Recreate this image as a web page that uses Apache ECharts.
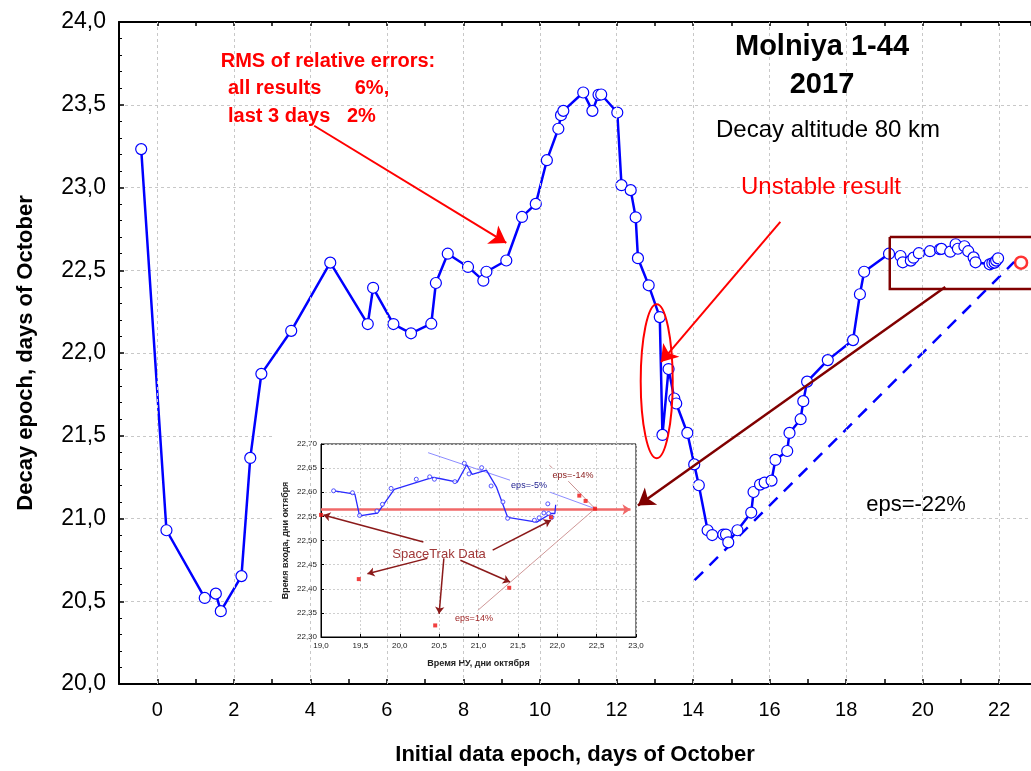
<!DOCTYPE html>
<html>
<head>
<meta charset="utf-8">
<script src="https://cdn.jsdelivr.net/npm/echarts@6/dist/echarts.min.js"></script>
<style>
  html, body { margin: 0; padding: 0; background: #fff; }
  #chart { width: 1031px; height: 771px; }
</style>
</head>
<body>
<div id="chart"></div>
<script>
// main curve: initial data epoch (days of October) -> predicted decay epoch
const mainDays = [-0.42, 0.24, 1.24, 1.53, 1.66, 2.20, 2.43, 2.72, 3.50, 4.52,
  5.50, 5.64, 6.17, 6.63, 7.16, 7.28, 7.59, 8.12, 8.52, 8.60,
  9.12, 9.53, 9.89, 10.18, 10.48, 10.55, 10.61, 11.13, 11.37, 11.53,
  11.60, 12.02, 12.13, 12.37, 12.50, 12.56, 12.84, 13.13, 13.20, 13.36,
  13.51, 13.56, 13.85, 14.03, 14.15, 14.38, 14.50, 14.79, 14.86, 14.92,
  15.16, 15.52, 15.58, 15.75, 15.87, 16.05, 16.15, 16.46, 16.52, 16.81,
  16.88, 16.98, 17.52, 18.18, 18.36, 18.47, 19.12, 19.42, 19.48, 19.69,
  19.76, 19.90, 20.19, 20.45, 20.49, 20.72, 20.86, 20.92, 21.09, 21.19,
  21.33, 21.38, 21.75, 21.82, 21.88, 21.92, 21.97];
const mainDecay = [23.232, 20.929, 20.52, 20.546, 20.44, 20.652, 21.366, 21.874, 22.134, 22.546,
  22.175, 22.394, 22.175, 22.119, 22.177, 22.423, 22.600, 22.520, 22.437, 22.491,
  22.559, 22.822, 22.901, 23.165, 23.355, 23.437, 23.463, 23.574, 23.463, 23.560,
  23.562, 23.453, 23.014, 22.984, 22.820, 22.573, 22.409, 22.217, 21.505, 21.903,
  21.725, 21.695, 21.517, 21.327, 21.201, 20.929, 20.900, 20.903, 20.903, 20.856,
  20.929, 21.036, 21.160, 21.205, 21.217, 21.229, 21.354, 21.408, 21.517, 21.600,
  21.709, 21.827, 21.957, 22.078, 22.355, 22.491, 22.600, 22.586, 22.548, 22.558,
  22.576, 22.603, 22.615, 22.627, 22.629, 22.612, 22.657, 22.630, 22.645, 22.615,
  22.578, 22.548, 22.536, 22.542, 22.546, 22.558, 22.572];
const actualDecay = [22.57, 22.546];
const xGridDays = [0, 2, 4, 6, 8, 10, 12, 14, 16, 18, 20, 22];

// annotation lines of the main chart
const rmsArrow = [[4.10, 23.373], [9.12, 22.665]];
const unstableArrow = [[16.28, 22.792], [13.16, 21.945]];
const zoomArrow = [[20.59, 22.399], [12.56, 21.079]];
const zoomBox = [[19.14, 22.701], [23.0, 22.701], [23.0, 22.387], [19.14, 22.387], [19.14, 22.701]];
const eps22Line = [[14.04, 20.627], [22.39, 22.550]];
const unstableCenter = [13.05, 21.83];

// inset: last days zoomed
const fitDays = [19.17, 19.43, 19.49, 19.72, 19.93, 20.42, 20.52, 20.73, 20.85, 20.92, 21.10, 21.23, 21.37, 21.74, 21.92, 21.97, 21.98];
const fitDecay = [22.603, 22.596, 22.551, 22.557, 22.606, 22.631, 22.628, 22.621, 22.657, 22.637, 22.646, 22.610, 22.548, 22.538, 22.556, 22.556, 22.574];
const ptDays = [19.16, 19.40, 19.49, 19.71, 19.78, 19.89, 20.21, 20.38, 20.44, 20.70, 20.82, 20.88, 21.04, 21.16, 21.31, 21.37, 21.71, 21.77, 21.83, 21.88, 21.89, 21.93];
const ptDecay = [22.603, 22.599, 22.552, 22.561, 22.575, 22.608, 22.627, 22.632, 22.627, 22.622, 22.660, 22.638, 22.651, 22.613, 22.580, 22.546, 22.542, 22.547, 22.557, 22.576, 22.556, 22.548];
const stDays = [19.0, 19.48, 20.45, 21.39, 21.92, 22.28, 22.36, 22.48];
const stDecay = [22.553, 22.42, 22.324, 22.402, 22.548, 22.593, 22.582, 22.566];
const decayLevel = [[19.0, 22.564], [22.93, 22.564]];
const epsM5Lines = [[[20.36, 22.682], [21.40, 22.625]], [[21.91, 22.600], [22.48, 22.566]]];
const epsM14Lines = [[[21.90, 22.656], [21.94, 22.650]], [[22.14, 22.623], [22.48, 22.566]]];
const eps14Line = [[20.99, 22.355], [22.48, 22.566]];
const stArrows = [
  [[20.30, 22.497], [19.03, 22.553]],
  [[21.18, 22.480], [21.92, 22.542]],
  [[20.35, 22.463], [19.59, 22.431]],
  [[20.56, 22.463], [20.50, 22.348]],
  [[20.77, 22.459], [21.40, 22.414]]
];

const FONT = 'Arial, "Liberation Sans", sans-serif';
const comma = (v, n) => v.toFixed(n).replace('.', ',');

function zipPts(xs, ys) {
  return xs.map((x, i) => [x, ys[i]]);
}

function arrowLines(list, color, width, size, z, xi) {
  return {
    type: 'lines',
    coordinateSystem: 'cartesian2d',
    xAxisIndex: xi, yAxisIndex: xi,
    symbol: ['none', 'arrow'],
    symbolSize: size,
    silent: true,
    z: z,
    lineStyle: { color: color, width: width, opacity: 1 },
    data: list.map(c => ({ coords: c }))
  };
}

function plainLines(list, color, width, z, xi, type) {
  return {
    type: 'lines',
    coordinateSystem: 'cartesian2d',
    xAxisIndex: xi, yAxisIndex: xi,
    symbol: ['none', 'none'],
    silent: true,
    polyline: true,
    z: z,
    lineStyle: { color: color, width: width, type: type || 'solid', opacity: 1 },
    data: list.map(c => ({ coords: c }))
  };
}

const chart = echarts.init(document.getElementById('chart'));

const option = {
  animation: false,
  backgroundColor: '#fff',
  textStyle: { fontFamily: FONT },
  grid: [
    { left: 119, right: -3, top: 22, bottom: 87, show: false },
    { left: 321, top: 444, width: 315, height: 193, show: true, borderColor: '#000', borderWidth: 1, z: 3 }
  ],
  xAxis: [
    {
      type: 'value', gridIndex: 0, min: -1, max: 22.83, interval: 1,
      name: 'Initial data epoch, days of October',
      nameLocation: 'middle', nameGap: 60,
      nameTextStyle: { fontSize: 22, fontWeight: 'bold', color: '#000', fontFamily: FONT },
      axisLine: { onZero: false, lineStyle: { color: '#000', width: 2 } },
      axisTick: { inside: true, length: 5, lineStyle: { color: '#000', width: 1.5 } },
      axisLabel: {
        fontSize: 20, color: '#000', margin: 16, showMinLabel: false, showMaxLabel: false,
        formatter: v => (Math.round(v) % 2 === 0 ? String(Math.round(v)) : '')
      },
      splitLine: { show: false }
    },
    {
      type: 'value', gridIndex: 1, min: 19, max: 23, interval: 0.5, z: 3,
      name: 'Время НУ, дни октября',
      nameLocation: 'middle', nameGap: 22,
      nameTextStyle: { fontSize: 9, fontWeight: 'bold', color: '#222', fontFamily: FONT },
      axisLine: { onZero: false, lineStyle: { color: '#000', width: 1 } },
      axisTick: { inside: true, length: 3, lineStyle: { color: '#000' } },
      axisLabel: { fontSize: 8, color: '#222', margin: 5, formatter: v => comma(v, 1) },
      splitLine: { show: true, lineStyle: { color: '#cfcfcf', type: [2, 2], width: 1 } }
    },
    {
      // top frame line of the main plot with inner ticks
      type: 'value', gridIndex: 0, min: -1, max: 22.83, interval: 1, position: 'top',
      axisLine: { onZero: false, lineStyle: { color: '#000', width: 2 } },
      axisTick: { inside: true, length: 4, lineStyle: { color: '#000', width: 1.5 } },
      axisLabel: { show: false },
      splitLine: { show: false }
    }
  ],
  yAxis: [
    {
      type: 'value', gridIndex: 0, min: 20, max: 24, interval: 0.5,
      name: 'Decay epoch, days of October',
      nameLocation: 'middle', nameGap: 82, nameRotate: 90,
      nameTextStyle: { fontSize: 22, fontWeight: 'bold', color: '#000', fontFamily: FONT },
      axisLine: { onZero: false, lineStyle: { color: '#000', width: 2 } },
      axisTick: { inside: true, length: 5, lineStyle: { color: '#000', width: 1.5 } },
      minorTick: { show: true, splitNumber: 5, length: 3, lineStyle: { color: '#000' } },
      axisLabel: { fontSize: 23, color: '#000', margin: 13, formatter: v => comma(v, 1) },
      splitLine: { show: true, lineStyle: { color: '#c8c8c8', type: [3, 3], width: 1 } }
    },
    {
      type: 'value', gridIndex: 1, min: 22.3, max: 22.7, interval: 0.05, z: 3,
      name: 'Время входа, дни октября',
      nameLocation: 'middle', nameGap: 31, nameRotate: 90,
      nameTextStyle: { fontSize: 9, fontWeight: 'bold', color: '#222', fontFamily: FONT },
      axisLine: { onZero: false, lineStyle: { color: '#000', width: 1 } },
      axisTick: { inside: true, length: 3, lineStyle: { color: '#000' } },
      axisLabel: { fontSize: 8, color: '#222', margin: 4, formatter: v => comma(v, 2) },
      splitLine: { show: true, lineStyle: { color: '#cfcfcf', type: [2, 2], width: 1 } }
    }
  ],
  series: [
    // vertical grid lines every 2 days
    {
      type: 'line', xAxisIndex: 0, yAxisIndex: 0, data: [], z: 0, silent: true,
      markLine: {
        silent: true, symbol: ['none', 'none'], label: { show: false },
        lineStyle: { color: '#c8c8c8', type: [3, 3], width: 1 },
        data: xGridDays.map(d => ({ xAxis: d }))
      }
    },
    {
      name: 'prediction', type: 'line', xAxisIndex: 0, yAxisIndex: 0, z: 4,
      data: zipPts(mainDays, mainDecay),
      symbol: 'circle', symbolSize: 11, showAllSymbol: true,
      lineStyle: { color: '#0000ff', width: 2.5 },
      itemStyle: { color: '#fff', borderColor: '#0000ff', borderWidth: 1.2 }
    },
    {
      name: 'actual', type: 'scatter', xAxisIndex: 0, yAxisIndex: 0, z: 4,
      data: [actualDecay], symbol: 'circle', symbolSize: 12,
      itemStyle: { color: '#fff', borderColor: '#ff0000', borderWidth: 2.5 }
    },
    arrowLines([rmsArrow, unstableArrow], '#ff0000', 2, 16, 5, 0),
    arrowLines([zoomArrow], '#800000', 2.5, 16, 5, 0),
    plainLines([zoomBox], '#800000', 2.5, 5, 0),
    plainLines([eps22Line], '#0000ff', 2.5, 3, 0, [12, 9]),

    // inset
    plainLines(epsM5Lines, '#8c8cff', 1, 5, 1),
    plainLines(epsM14Lines, '#c89090', 1, 5, 1),
    plainLines([eps14Line], '#d09898', 1, 5, 1),
    arrowLines([decayLevel], '#f06868', 2.5, 8, 5, 1),
    {
      type: 'line', xAxisIndex: 1, yAxisIndex: 1, z: 6,
      data: zipPts(fitDays, fitDecay), symbol: 'none',
      lineStyle: { color: '#2a2aff', width: 1.3 }
    },
    {
      type: 'scatter', xAxisIndex: 1, yAxisIndex: 1, z: 6,
      data: zipPts(ptDays, ptDecay), symbol: 'circle', symbolSize: 4,
      itemStyle: { color: '#fff', borderColor: '#2a2aff', borderWidth: 1 }
    },
    {
      type: 'scatter', xAxisIndex: 1, yAxisIndex: 1, z: 6,
      data: zipPts(stDays, stDecay), symbol: 'rect', symbolSize: 4,
      itemStyle: { color: '#ee1111' }
    },
    arrowLines(stArrows, '#8b1a1a', 1.5, 7, 6, 1)
  ],
  graphic: [
    { id: 'insetBg', type: 'rect', z: 1, silent: true,
      shape: { x: 273, y: 436, width: 369, height: 241 }, style: { fill: '#fff' } },
    { id: 't1', type: 'text', z: 10, x: 822, y: 47,
      style: { text: 'Molniya 1-44', font: 'bold 29px ' + FONT, fill: '#000', align: 'center', verticalAlign: 'middle' } },
    { id: 't2', type: 'text', z: 10, x: 822, y: 85,
      style: { text: '2017', font: 'bold 29px ' + FONT, fill: '#000', align: 'center', verticalAlign: 'middle' } },
    { id: 't3', type: 'text', z: 10, x: 828, y: 130,
      style: { text: 'Decay altitude 80 km', font: '24px ' + FONT, fill: '#000', align: 'center', verticalAlign: 'middle' } },
    { id: 't4', type: 'text', z: 10, x: 821, y: 187,
      style: { text: 'Unstable result', font: '24px ' + FONT, fill: '#ff0000', align: 'center', verticalAlign: 'middle' } },
    { id: 't5', type: 'text', z: 10, x: 328, y: 61,
      style: { text: 'RMS of relative errors:', font: 'bold 20px ' + FONT, fill: '#ff0000', align: 'center', verticalAlign: 'middle' } },
    { id: 't6', type: 'text', z: 10, x: 228, y: 88,
      style: { text: 'all results      6%,', font: 'bold 20px ' + FONT, fill: '#ff0000', align: 'left', verticalAlign: 'middle' } },
    { id: 't7', type: 'text', z: 10, x: 228, y: 116,
      style: { text: 'last 3 days   2%', font: 'bold 20px ' + FONT, fill: '#ff0000', align: 'left', verticalAlign: 'middle' } },
    { id: 't8', type: 'text', z: 10, x: 916, y: 505,
      style: { text: 'eps=-22%', font: '22px ' + FONT, fill: '#000', align: 'center', verticalAlign: 'middle' } },
    { id: 'i1', type: 'text', z: 10, x: 529, y: 486,
      style: { text: 'eps=-5%', font: '9px ' + FONT, fill: '#1a1a8c', align: 'center', verticalAlign: 'middle' } },
    { id: 'i2', type: 'text', z: 10, x: 573, y: 476,
      style: { text: 'eps=-14%', font: '9px ' + FONT, fill: '#8b2020', align: 'center', verticalAlign: 'middle' } },
    { id: 'i3', type: 'text', z: 10, x: 474, y: 619,
      style: { text: 'eps=14%', font: '9px ' + FONT, fill: '#a02828', align: 'center', verticalAlign: 'middle' } },
    { id: 'i4', type: 'text', z: 10, x: 439, y: 554,
      style: { text: 'SpaceTrak Data', font: '13px ' + FONT, fill: '#a03838', align: 'center', verticalAlign: 'middle' } }
  ]
};

chart.setOption(option);

// red ellipse around the unstable result, placed through the main axes
const c = chart.convertToPixel({ gridIndex: 0 }, unstableCenter);
chart.setOption({
  graphic: [{
    id: 'ellipse', type: 'ellipse', z: 10, silent: true,
    shape: { cx: c[0], cy: c[1], rx: 16, ry: 77 },
    style: { fill: 'none', stroke: '#ff0000', lineWidth: 2 }
  }]
});
</script>
</body>
</html>
